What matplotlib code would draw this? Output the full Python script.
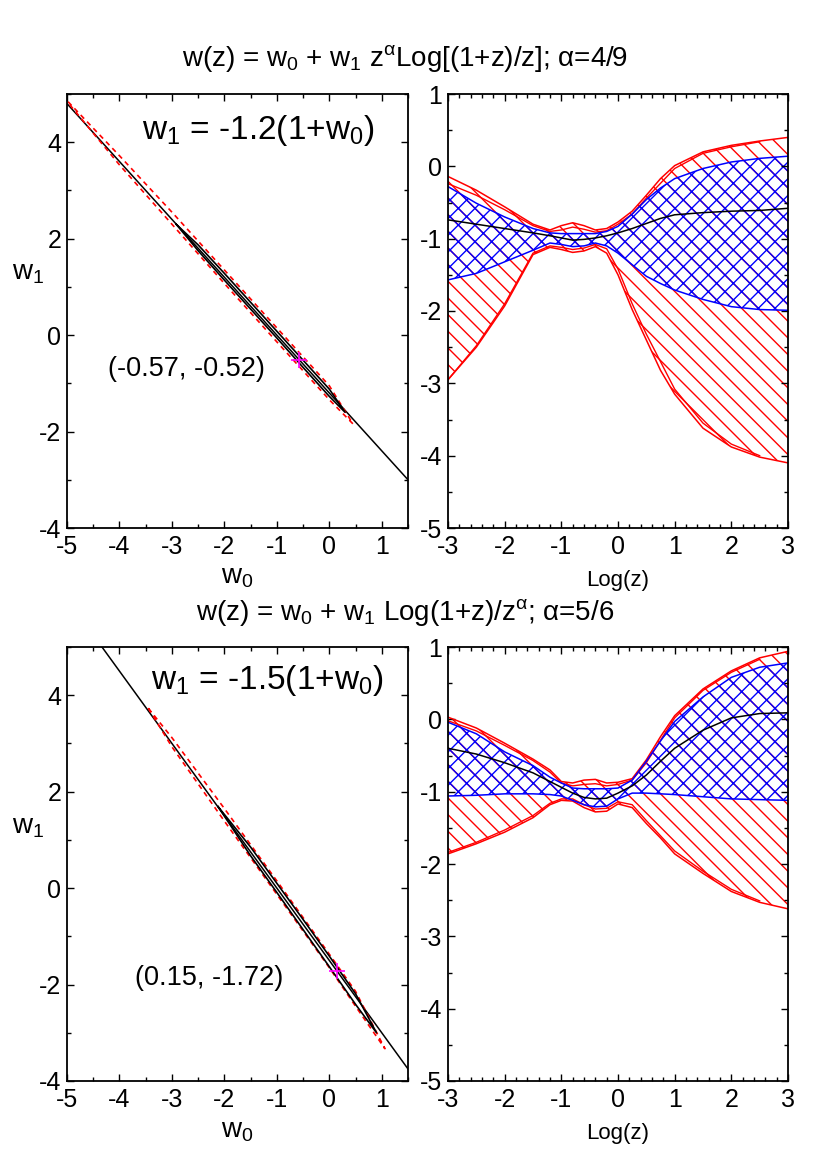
import numpy as np
import matplotlib
matplotlib.use("Agg")
import matplotlib.pyplot as plt
from matplotlib.ticker import MultipleLocator

plt.rcParams['font.family'] = ['Liberation Sans', 'DejaVu Sans']
plt.rcParams['mathtext.default'] = 'regular'
plt.rcParams['hatch.linewidth'] = 1.0
plt.rcParams['axes.unicode_minus'] = False

# ---------------- data: left panels (w0, w1 plane) ----------------
slope_top = -1.2
slope_bot = -1.5
best_top = (-0.57, -0.52)
best_bot = (0.15, -1.72)

# 1-sigma (black) contour of top-left panel
ctop_w0 = [-2.92, -2.5, -2.0, -1.5, -1.0, -0.5, 0.0, 0.30]
ctop_hi = [2.30, 1.87, 1.28, 0.68, 0.08, -0.52, -1.12, -1.60]
ctop_lo = [2.30, 1.75, 1.14, 0.54, -0.06, -0.67, -1.27, -1.60]
# 2-sigma (red dashed) contour of top-left panel
dtop_w0 = [-4.98, -4.0, -3.0, -2.0, -1.0, 0.0, 0.45]
dtop_hi = [4.84, 3.72, 2.55, 1.35, 0.15, -1.05, -1.84]
dtop_lo = [4.82, 3.53, 2.30, 1.07, -0.14, -1.34, -1.84]

# 1-sigma (black) contour of bottom-left panel
cbot_w0 = [-2.12, -1.5, -1.0, -0.5, 0.0, 0.5, 0.90]
cbot_hi = [1.69, 0.85, 0.10, -0.65, -1.41, -2.19, -3.00]
cbot_lo = [1.69, 0.67, -0.09, -0.86, -1.63, -2.41, -3.00]
# 2-sigma (red dashed) contour of bottom-left panel
dbot_w0 = [-3.45, -3.0, -2.0, -1.0, 0.0, 0.5, 1.06]
dbot_hi = [3.73, 3.12, 1.65, 0.15, -1.37, -2.14, -3.33]
dbot_lo = [3.73, 2.93, 1.39, -0.13, -1.65, -2.45, -3.33]

# ---------------- data: right panels (w vs Log z) ----------------
logz = [-3.0, -2.5, -2.0, -1.5, -1.2, -1.0, -0.8, -0.6, -0.4, -0.2,
        0.0, 0.25, 0.5, 0.75, 1.0, 1.5, 2.0, 2.5, 3.0]

# top: alpha = 4/9
t_red_hi = [-0.14, -0.33, -0.56, -0.80, -0.88, -0.82, -0.78, -0.82, -0.88, -0.86,
            -0.77, -0.62, -0.40, -0.17, 0.01, 0.20, 0.29, 0.35, 0.40]
t_red_lo = [-2.95, -2.50, -1.93, -1.22, -1.12, -1.15, -1.19, -1.17, -1.11, -1.20,
            -1.50, -1.98, -2.40, -2.82, -3.15, -3.62, -3.88, -4.02, -4.10]
t_blue_hi = [-0.28, -0.51, -0.70, -0.86, -0.92, -0.93, -0.93, -0.93, -0.93, -0.90,
             -0.83, -0.66, -0.46, -0.30, -0.17, -0.03, 0.06, 0.11, 0.14]
t_blue_lo = [-1.57, -1.48, -1.32, -1.16, -1.06, -1.08, -1.11, -1.10, -1.06, -1.10,
             -1.20, -1.36, -1.52, -1.62, -1.71, -1.84, -1.94, -1.98, -1.99]
t_best = [-0.74, -0.80, -0.86, -0.92, -0.96, -0.99, -1.02, -1.01, -0.99, -0.96,
          -0.92, -0.86, -0.79, -0.72, -0.67, -0.64, -0.62, -0.61, -0.58]
# secondary red contour lines (top)
t_red2_x = [-3.0, -2.5, -2.0, -1.5, -1.2, -1.0, -0.8, -0.6, -0.4, -0.2, 0.0, 0.25, 0.5, 1.0, 1.5, 2.0, 2.5]
t_red2_hi = [-0.24, -0.40, -0.60, -0.82, -0.90, -0.88, -0.84, -0.87, -0.91, -0.89,
             -0.80, -0.66, -0.44, -0.03, 0.18, 0.27, 0.34]
t_red2_lo = [-2.95, -2.48, -1.90, -1.20, -1.10, -1.12, -1.15, -1.13, -1.08, -1.14,
             -1.42, -1.90, -2.32, -3.08, -3.55, -3.84, -4.00]

# bottom: alpha = 5/6
b_red_hi = [0.03, -0.12, -0.33, -0.55, -0.70, -0.86, -0.88, -0.84, -0.83, -0.88,
            -0.87, -0.82, -0.56, -0.24, 0.05, 0.42, 0.67, 0.85, 0.94]
b_red_lo = [-1.86, -1.72, -1.56, -1.36, -1.18, -1.12, -1.13, -1.22, -1.28, -1.27,
            -1.17, -1.22, -1.44, -1.64, -1.86, -2.13, -2.38, -2.53, -2.62]
b_blue_hi = [-0.04, -0.20, -0.45, -0.64, -0.80, -0.88, -0.95, -0.96, -0.96, -0.96,
             -0.95, -0.84, -0.58, -0.30, -0.03, 0.31, 0.58, 0.72, 0.78]
b_blue_lo = [-1.06, -1.05, -1.03, -1.03, -1.04, -1.06, -1.12, -1.18, -1.21, -1.20,
             -1.10, -1.02, -1.02, -1.03, -1.04, -1.07, -1.10, -1.11, -1.12]
b_best = [-0.40, -0.48, -0.60, -0.74, -0.86, -0.94, -1.02, -1.08, -1.10, -1.09,
          -1.02, -0.92, -0.77, -0.58, -0.40, -0.15, 0.02, 0.08, 0.09]
b_red2_x = [-3.0, -2.5, -2.0, -1.5, -1.2, -1.0, -0.8, -0.6, -0.4, -0.2, 0.0, 0.25, 0.5, 1.0, 1.5, 2.0, 2.5]
b_red2_hi = [-0.02, -0.16, -0.36, -0.57, -0.73, -0.88, -0.92, -0.90, -0.89, -0.92,
             -0.90, -0.84, -0.60, 0.02, 0.40, 0.65, 0.83]
b_red2_lo = [-1.84, -1.70, -1.53, -1.33, -1.16, -1.10, -1.10, -1.18, -1.24, -1.23,
             -1.14, -1.18, -1.40, -1.82, -2.10, -2.35, -2.51]

titles = [r"w(z) = w$_0$ + w$_1$ z$^{α}$Log[(1+z)/z]; α=4/9",
          r"w(z) = w$_0$ + w$_1$ Log(1+z)/z$^{α}$; α=5/6"]
rel_labels = [r"w$_1$ = -1.2(1+w$_0$)", r"w$_1$ = -1.5(1+w$_0$)"]
best_labels = ["(-0.57, -0.52)", "(0.15, -1.72)"]

# ---------------- figure ----------------
W, H = 830, 1175
fig = plt.figure(figsize=(W / 100, H / 100), dpi=100)

def ax_at(x0, y0, x1, y1):
    return fig.add_axes([x0 / W, 1 - y1 / H, (x1 - x0) / W, (y1 - y0) / H])

tick_fs = 18

def style(ax, xmaj, xmin, ymaj, ymin):
    ax.xaxis.set_major_locator(MultipleLocator(xmaj))
    ax.xaxis.set_minor_locator(MultipleLocator(xmin))
    ax.yaxis.set_major_locator(MultipleLocator(ymaj))
    ax.yaxis.set_minor_locator(MultipleLocator(ymin))
    ax.tick_params(which='both', direction='in', top=True, right=True,
                   labelsize=tick_fs, width=1.0)
    ax.tick_params(axis='x', which='both', pad=5)
    ax.tick_params(axis='y', which='both', pad=4)
    ax.tick_params(which='major', length=5)
    ax.tick_params(which='minor', length=3)
    for s in ax.spines.values():
        s.set_linewidth(1.3)

def closed(w0, hi, lo):
    xs = list(w0) + list(w0[::-1])
    ys = list(hi) + list(lo[::-1])
    return xs + [xs[0]], ys + [ys[0]]

rows = [
    dict(y0=94, y1=528, slope=slope_top, best=best_top,
         c=(ctop_w0, ctop_hi, ctop_lo), d=(dtop_w0, dtop_hi, dtop_lo),
         rhi=t_red_hi, rlo=t_red_lo, bhi=t_blue_hi, blo=t_blue_lo, bf=t_best,
         r2x=t_red2_x, r2hi=t_red2_hi, r2lo=t_red2_lo,
         rel_xy=(142, 130), best_xy=(186, 369), title_y=58, w1_y=280),
    dict(y0=647, y1=1081, slope=slope_bot, best=best_bot,
         c=(cbot_w0, cbot_hi, cbot_lo), d=(dbot_w0, dbot_hi, dbot_lo),
         rhi=b_red_hi, rlo=b_red_lo, bhi=b_blue_hi, blo=b_blue_lo, bf=b_best,
         r2x=b_red2_x, r2hi=b_red2_hi, r2lo=b_red2_lo,
         rel_xy=(151, 680), best_xy=(209, 978), title_y=612, w1_y=833),
]

for i, r in enumerate(rows):
    # ---- left panel ----
    axl = ax_at(67, r['y0'], 408, r['y1'])
    w0_line = np.array([-5.0, 1.5])
    axl.plot(w0_line, r['slope'] * (1 + w0_line), color='black', lw=1.1)
    dx, dy = closed(*r['d'])
    axl.plot(dx, dy, color='red', lw=1.2, ls=(0, (3, 2.5)))
    cx, cy = closed(*r['c'])
    axl.plot(cx, cy, color='black', lw=1.2)
    axl.plot([r['best'][0]], [r['best'][1]], marker='+', color='magenta',
             ms=11, mew=1.2)
    axl.set_xlim(-5, 1.5)
    axl.set_ylim(-4, 5)
    style(axl, 1, 0.5, 2, 1)
    axl.set_xlabel(r"w$_0$", fontsize=20, labelpad=4)
    fig.text(12 / W, 1 - r['w1_y'] / H, r"w$_1$", fontsize=20,
             ha='left', va='baseline')
    fig.text(r['rel_xy'][0] / W, 1 - r['rel_xy'][1] / H, rel_labels[i],
             fontsize=24, ha='left', va='center')
    fig.text(r['best_xy'][0] / W, 1 - r['best_xy'][1] / H, best_labels[i],
             fontsize=19.5, ha='center', va='center')

    # ---- right panel ----
    axr = ax_at(448, r['y0'], 788, r['y1'])
    axr.fill_between(logz, r['rlo'], r['rhi'], facecolor='none', edgecolor='red',
                     hatch='\\\\', linewidth=0)
    axr.fill_between(logz, r['blo'], r['bhi'], facecolor='none', edgecolor='blue',
                     hatch='xx', linewidth=0)
    axr.plot(logz, r['rhi'], color='red', lw=1.1)
    axr.plot(logz, r['rlo'], color='red', lw=1.1)
    axr.plot(r['r2x'], r['r2hi'], color='red', lw=1.0)
    axr.plot(r['r2x'], r['r2lo'], color='red', lw=1.0)
    axr.plot(logz, r['bhi'], color='blue', lw=1.1)
    axr.plot(logz, r['blo'], color='blue', lw=1.1)
    axr.plot(logz, r['bf'], color='black', lw=1.1)
    axr.set_xlim(-3, 3)
    axr.set_ylim(-5, 1)
    style(axr, 1, 0.2, 1, 0.5)
    axr.set_xlabel("Log(z)", fontsize=16, labelpad=8)

    fig.text(405 / W, 1 - r['title_y'] / H, titles[i], fontsize=20,
             ha='center', va='center')

fig.savefig("out.png", dpi=100)
